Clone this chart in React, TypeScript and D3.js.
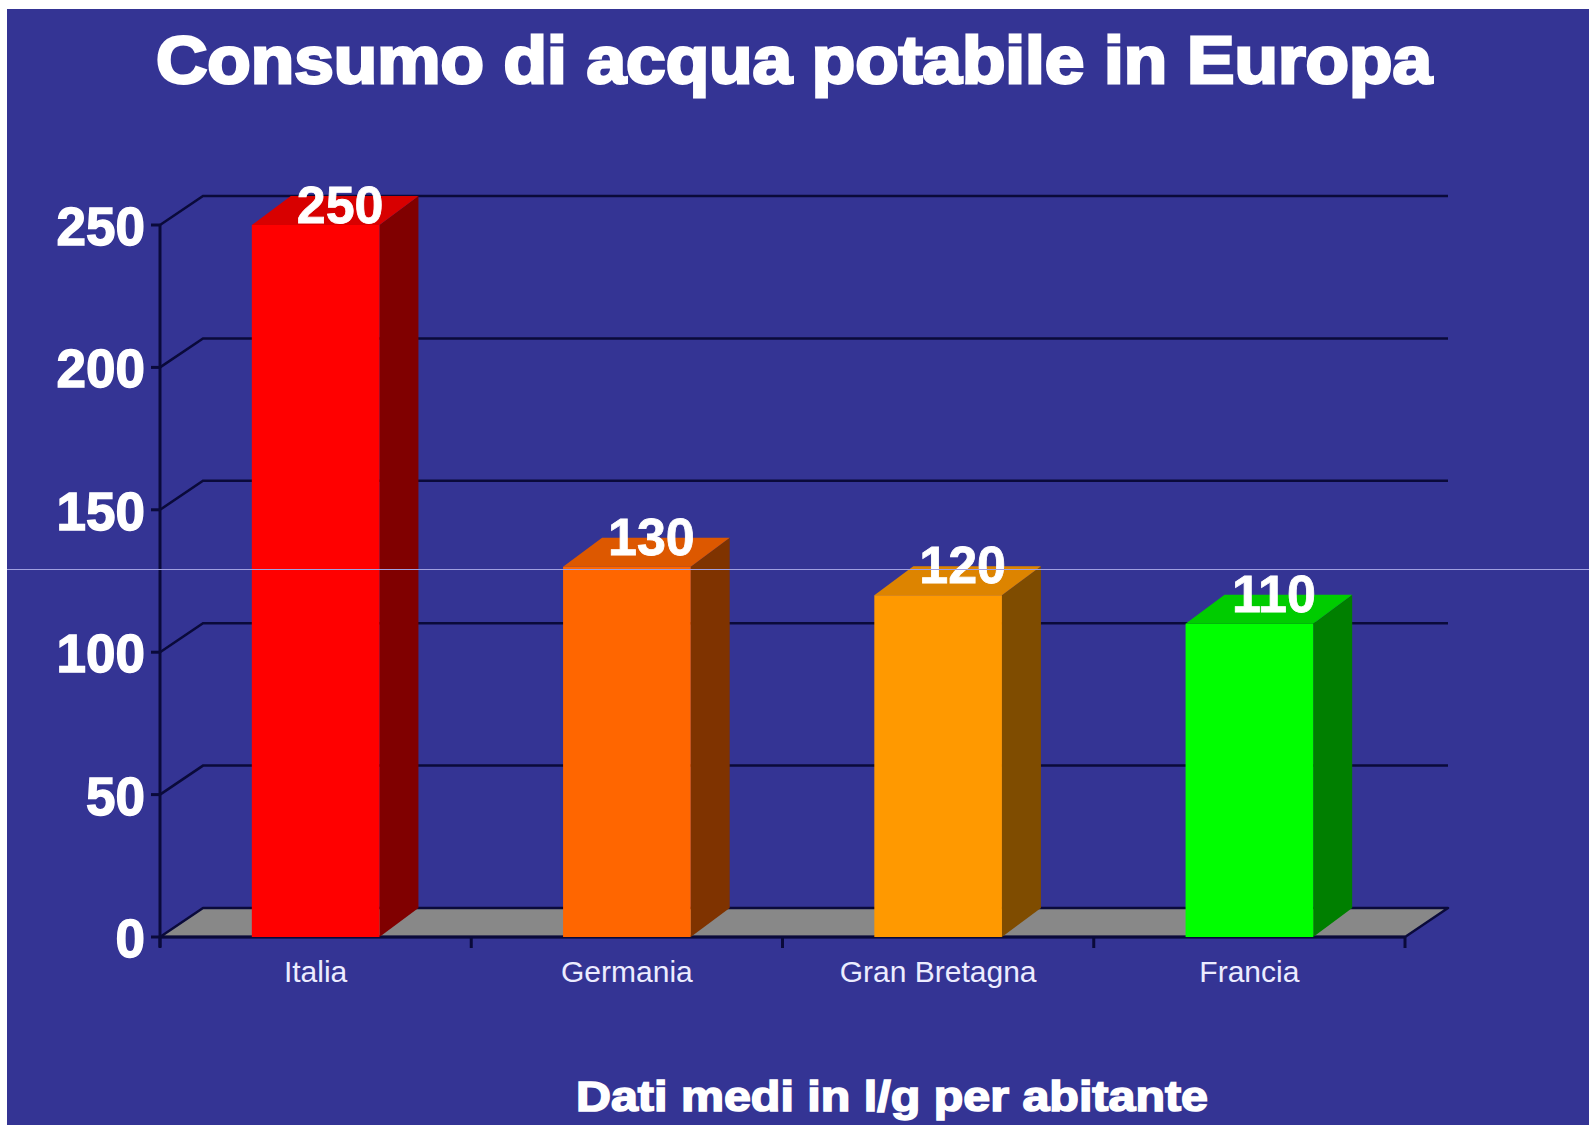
import React from "react";
import * as d3 from "d3";

const categories = ["Italia", "Germania", "Gran Bretagna", "Francia"];
const values = [250, 130, 120, 110];
const yTicks = [0, 50, 100, 150, 200, 250];
const frontColors = ["#ff0000", "#ff6600", "#ff9900", "#00ff00"];
const topColors = ["#d80000", "#dd5800", "#dd8400", "#00cc00"];
const sideColors = ["#800000", "#7f3300", "#7f4c00", "#007f00"];
const title = "Consumo di acqua potabile in Europa";
const subtitle = "Dati medi in l/g per abitante";

const W = 1589;
const H = 1125;
const BG = "#343494";
const GRID = "#0a0a3a";

export default function App() {
  const x0 = 160;
  const x1 = 1405;
  const y = d3.scaleLinear().domain([0, 250]).range([937, 225]);
  const x = d3
    .scaleBand<string>()
    .domain(categories)
    .range([x0, x1])
    .paddingInner(0.59)
    .paddingOuter(0.295);
  const step = x.step();
  const gdx = 43;
  const gdy = -29;
  const bdx = 39;
  const bdy = -29;
  const base = y(0);

  const line = d3.line();

  return (
    <svg
      width={W}
      height={H}
      style={{ position: "fixed", left: 0, top: 0 }}
      fontFamily="'Liberation Sans', Arial, sans-serif"
    >
      <rect x={0} y={0} width={W} height={H} fill="#ffffff" />
      <rect x={7} y={9} width={W - 7} height={H - 9} fill={BG} />

      {/* title */}
      <text
        x={794}
        y={83}
        textAnchor="middle"
        fontSize={67}
        fontWeight={900}
        fill="#ffffff"
        stroke="#ffffff"
        strokeWidth={2.8}
        textLength={1276}
        lengthAdjust="spacingAndGlyphs"
      >
        {title}
      </text>

      {/* gridlines */}
      {yTicks
        .filter((t) => t > 0)
        .map((t) => (
          <path
            key={"g" + t}
            d={
              line([
                [x0, y(t)],
                [x0 + gdx, y(t) + gdy],
                [x1 + gdx, y(t) + gdy],
              ]) || ""
            }
            fill="none"
            stroke={GRID}
            strokeWidth={2.5}
          />
        ))}

      {/* floor */}
      <path
        d={
          line([
            [x0, base],
            [x1, base],
            [x1 + gdx, base + gdy],
            [x0 + gdx, base + gdy],
          ]) + "Z"
        }
        fill="#888888"
        stroke={GRID}
        strokeWidth={2.5}
        strokeLinejoin="round"
      />

      {/* y axis */}
      <line x1={x0} y1={y(250)} x2={x0} y2={base + 10} stroke={GRID} strokeWidth={3} />
      {yTicks.map((t) => (
        <g key={"t" + t}>
          <line x1={x0 - 9} y1={y(t)} x2={x0} y2={y(t)} stroke={GRID} strokeWidth={3} />
          <text
            x={145}
            y={y(t) + 20}
            textAnchor="end"
            fontSize={53}
            fontWeight={700}
            fill="#ffffff"
            stroke="#ffffff"
            strokeWidth={1.4}
          >
            {t}
          </text>
        </g>
      ))}

      {/* x axis baseline and ticks */}
      <line x1={x0} y1={base} x2={x1} y2={base} stroke={GRID} strokeWidth={3} />
      {d3.range(categories.length + 1).map((i) => (
        <line
          key={"xt" + i}
          x1={x0 + i * step}
          y1={base}
          x2={x0 + i * step}
          y2={base + 11}
          stroke={GRID}
          strokeWidth={3}
        />
      ))}

      {/* bars */}
      {categories.map((c, i) => {
        const bx = x(c) as number;
        const bw = x.bandwidth();
        const top = y(values[i]);
        return (
          <g key={"b" + c}>
            <path
              d={
                line([
                  [bx + bw, top],
                  [bx + bw + bdx, top + bdy],
                  [bx + bw + bdx, base + bdy],
                  [bx + bw, base],
                ]) + "Z"
              }
              fill={sideColors[i]}
            />
            <path
              d={
                line([
                  [bx, top],
                  [bx + bdx, top + bdy],
                  [bx + bw + bdx, top + bdy],
                  [bx + bw, top],
                ]) + "Z"
              }
              fill={topColors[i]}
            />
            <rect x={bx} y={top} width={bw} height={base - top} fill={frontColors[i]} />
          </g>
        );
      })}

      {/* value labels */}
      {categories.map((c, i) => {
        const bx = x(c) as number;
        const cx = bx + x.bandwidth() / 2 + bdx / 2 + 5;
        const by = Math.max(y(values[i]) - 12, 223);
        return (
          <text
            key={"v" + c}
            x={cx}
            y={by}
            textAnchor="middle"
            fontSize={52}
            fontWeight={700}
            fill="#ffffff"
            stroke="#ffffff"
            strokeWidth={0.8}
          >
            {values[i]}
          </text>
        );
      })}

      {/* category labels */}
      {categories.map((c) => (
        <text
          key={"c" + c}
          x={(x(c) as number) + x.bandwidth() / 2}
          y={982}
          textAnchor="middle"
          fontSize={30}
          fill="#ececff"
        >
          {c}
        </text>
      ))}

      {/* subtitle */}
      <text
        x={892}
        y={1111}
        textAnchor="middle"
        fontSize={42}
        fontWeight={700}
        fill="#ffffff"
        stroke="#ffffff"
        strokeWidth={1.6}
        textLength={632}
        lengthAdjust="spacingAndGlyphs"
      >
        {subtitle}
      </text>

      {/* thin light scan line seen in reference */}
      <line x1={7} y1={569.5} x2={W} y2={569.5} stroke="#a0a0e0" strokeWidth={1} />
    </svg>
  );
}
